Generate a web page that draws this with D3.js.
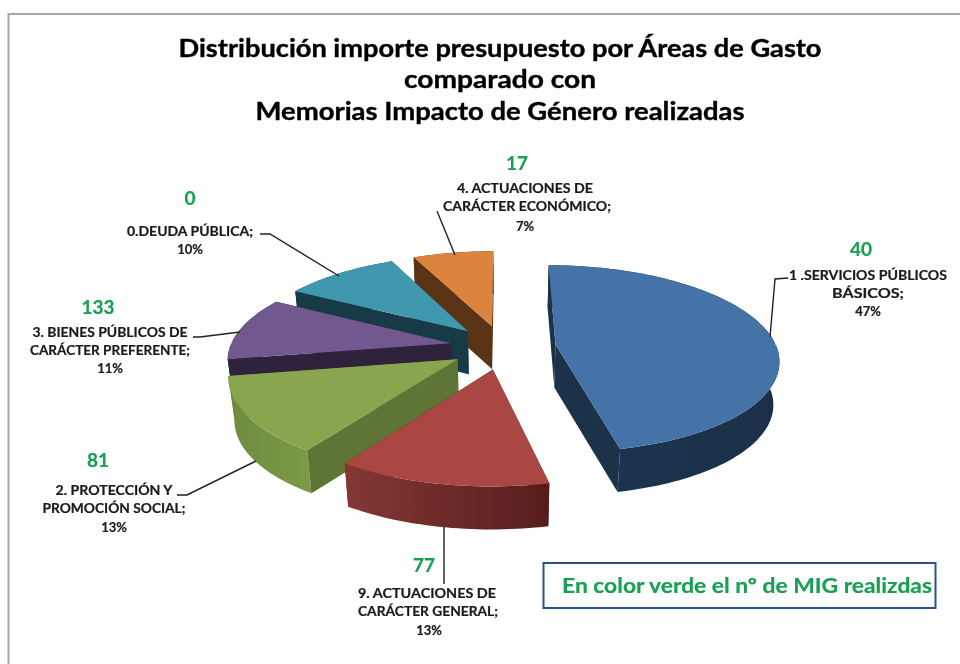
<!DOCTYPE html>
<html><head><meta charset="utf-8">
<script src="https://cdn.jsdelivr.net/npm/d3@7/dist/d3.min.js"></script>
<style>html,body{margin:0;padding:0;background:#fff}svg{display:block}text{font-family:Lato,"Open Sans",sans-serif;font-weight:700}</style>
</head><body><div id="chart"></div>
<script>
// ---- data ----
const categories = ["1 .SERVICIOS PÚBLICOS BÁSICOS","9. ACTUACIONES DE CARÁCTER GENERAL","2. PROTECCIÓN Y PROMOCIÓN SOCIAL","3. BIENES PÚBLICOS DE CARÁCTER PREFERENTE","0.DEUDA PÚBLICA","4. ACTUACIONES DE CARÁCTER ECONÓMICO"];
const shares = [47,13,13,11,10,7];
const migCounts = [40,77,81,133,0,17];
const labelLine1 = ["1 .SERVICIOS PÚBLICOS","9. ACTUACIONES DE","2. PROTECCIÓN Y","3. BIENES PÚBLICOS DE","0.DEUDA PÚBLICA;","4. ACTUACIONES DE"];
const labelLine2 = ["BÁSICOS;","CARÁCTER GENERAL;","PROMOCIÓN SOCIAL;","CARÁCTER PREFERENTE;","","CARÁCTER ECONÓMICO;"];
const titleLines = ["Distribución importe presupuesto por Áreas de Gasto","comparado con","Memorias Impacto de Género realizadas"];
const noteText = "En color verde el nº de MIG realizdas";

// ---- styles ----
const topColors = ["#4572A7","#AA4643","#89A54E","#71588F","#4198AF","#DB843D"];
const radialWallColors = ["#1c3049","#5a2120","#5e7434","#2d203e","#163a46","#5a3315"];
const outerWallLeft = ["#1c3350","#843735","#6e8a40","#2d203e","#163a46","#5a3315"];
const outerWallRight = ["#1a2f47","#561e1d","#7c9b47","#2d203e","#163a46","#5a3315"];
const green = "#17a052", ink = "#1a1a1a";

// ---- layout ----
const W = 960, H = 664;
const Cx = 503, Cy = 347, R = 221, tilt = 0.416, persp = 0.15, depth = 43, shrink = 0.022, explode = 53;
const titleLayout = [{x:500,y:57,w:643},{x:500,y:88,w:192},{x:500,y:120,w:489}];
const numberLayout = [{x:861,y:256},{x:424,y:572},{x:98,y:467},{x:98,y:314},{x:190,y:205},{x:517,y:170}];
const line1Layout = [{x:868,y:280,w:158},{x:427,y:598,w:138},{x:114,y:495,w:117},{x:110,y:337,w:155},{x:190,y:236,w:126},{x:525,y:193,w:136}];
const line2Layout = [{x:868,y:298,w:72},{x:428,y:616,w:140},{x:114,y:513,w:143},{x:110,y:355,w:160},null,{x:527,y:211,w:168}];
const pctLayout = [{x:868,y:316},{x:429,y:635},{x:114,y:532},{x:110,y:373},{x:190,y:254},{x:525,y:231}];
const leaders = [[[788,278],[775,279],[770,337]],[[444,527],[444,584]],[[177,495],[187,495],[256,461]],[[193,337],[200,337],[240,332]],[[260,234],[270,234],[339,276]],[[437,211],[455,255]]];

const svg = d3.select("#chart").append("svg").attr("width",W).attr("height",H).attr("viewBox",[0,0,W,H]);
const defs = svg.append("defs");
defs.append("filter").attr("id","soft").attr("x","-5%").attr("y","-5%").attr("width","110%").attr("height","110%")
  .append("feGaussianBlur").attr("stdDeviation",0.55);
const root = svg.append("g").attr("filter","url(#soft)");

// frame
root.append("path").attr("d",d3.line()([[960,14],[8.5,14],[8.5,664]])).attr("fill","none").attr("stroke","#a6a6a6").attr("stroke-width",2);

// pie
const start = 0;
const pie = d3.pie().sort(null).startAngle(start).endAngle(start+2*Math.PI);
const arcs = pie(shares);
const radius = d3.scaleLinear().domain([0,1]).range([0,R]);
function project(wx,wy,z){
  const s = 1/(1+persp*wy/R);
  return [Cx+wx*s*(1-shrink*z), Cy-wy*tilt*s+z*depth];
}
function samples(a){
  const n=Math.max(8,Math.ceil((a.endAngle-a.startAngle)*40));
  return d3.range(n+1).map(i=>a.startAngle+(a.endAngle-a.startAngle)*i/n);
}
function rimPoint(a,t,z){
  const mid=(a.startAngle+a.endAngle)/2, ex=explode*Math.sin(mid), ey=explode*Math.cos(mid);
  return project(ex+radius(1)*Math.sin(t),ey+radius(1)*Math.cos(t),z);
}
function centrePoint(a,z){
  const mid=(a.startAngle+a.endAngle)/2;
  return project(explode*Math.sin(mid),explode*Math.cos(mid),z);
}
const line = d3.line();
const order = [5,4,3,2,1,0];
order.forEach(i=>{
  const a=arcs[i], th=samples(a);
  const gid="wall"+i;
  const g=defs.append("linearGradient").attr("id",gid);
  g.append("stop").attr("offset",0).attr("stop-color",outerWallLeft[i]);
  g.append("stop").attr("offset",1).attr("stop-color",outerWallRight[i]);
  const slice=root.append("g").attr("class","slice").datum(categories[i]);
  const outer=(ts)=>{
    if(ts.length<2) return;
    const t=ts.map(v=>rimPoint(a,v,0)), b=ts.map(v=>rimPoint(a,v,1)).reverse();
    slice.append("path").attr("d",line(t.concat(b))+"Z").attr("fill",`url(#${gid})`);
  };
  const radial=(v)=>{
    slice.append("path").attr("d",line([centrePoint(a,0),rimPoint(a,v,0),rimPoint(a,v,1),centrePoint(a,1)])+"Z").attr("fill",radialWallColors[i]);
  };
  const startFront=Math.sin(a.startAngle)<0, endFront=Math.sin(a.endAngle)>0;
  // back-facing faces first, then front-facing, then the top
  outer(th.filter(v=>Math.cos(v)>=0));
  if(!startFront) radial(a.startAngle);
  if(!endFront) radial(a.endAngle);
  outer(th.filter(v=>Math.cos(v)<=0.02));
  if(startFront) radial(a.startAngle);
  if(endFront) radial(a.endAngle);
  const topPts=th.map(v=>rimPoint(a,v,0));
  slice.append("path").attr("d",line([centrePoint(a,0)].concat(topPts))+"Z").attr("fill",topColors[i]);
});

// leaders
leaders.forEach(p=>root.append("path").attr("d",line(p)).attr("fill","none").attr("stroke","#222").attr("stroke-width",1.4));

function put(t,l,size,color,bold){
  const n=root.append("text").attr("x",l.x).attr("y",l.y).attr("text-anchor","middle").attr("font-size",size).attr("fill",color).text(t);
  if(bold) n.attr("stroke",color).attr("stroke-width",bold);
  if(l.w) n.attr("textLength",l.w).attr("lengthAdjust","spacingAndGlyphs");
  return n;
}
titleLines.forEach((t,i)=>put(t,titleLayout[i],25,"#000",0.4));
categories.forEach((c,i)=>{
  put(String(migCounts[i]),numberLayout[i],19,green,0.2);
  put(labelLine1[i],line1Layout[i],12.5,ink,0.2);
  if(labelLine2[i]) put(labelLine2[i],line2Layout[i],12.5,ink,0.2);
  put(shares[i]+"%",pctLayout[i],13,ink,0.2);
});

// note box
root.append("rect").attr("x",543.5).attr("y",563).attr("width",392).attr("height",45).attr("fill","#fff").attr("stroke","#2f4f8f").attr("stroke-width",2);
root.append("text").attr("x",562).attr("y",593).attr("font-size",21).attr("fill",green).attr("stroke",green).attr("stroke-width",0.2).attr("textLength",370).attr("lengthAdjust","spacingAndGlyphs").text(noteText);
</script></body></html>
